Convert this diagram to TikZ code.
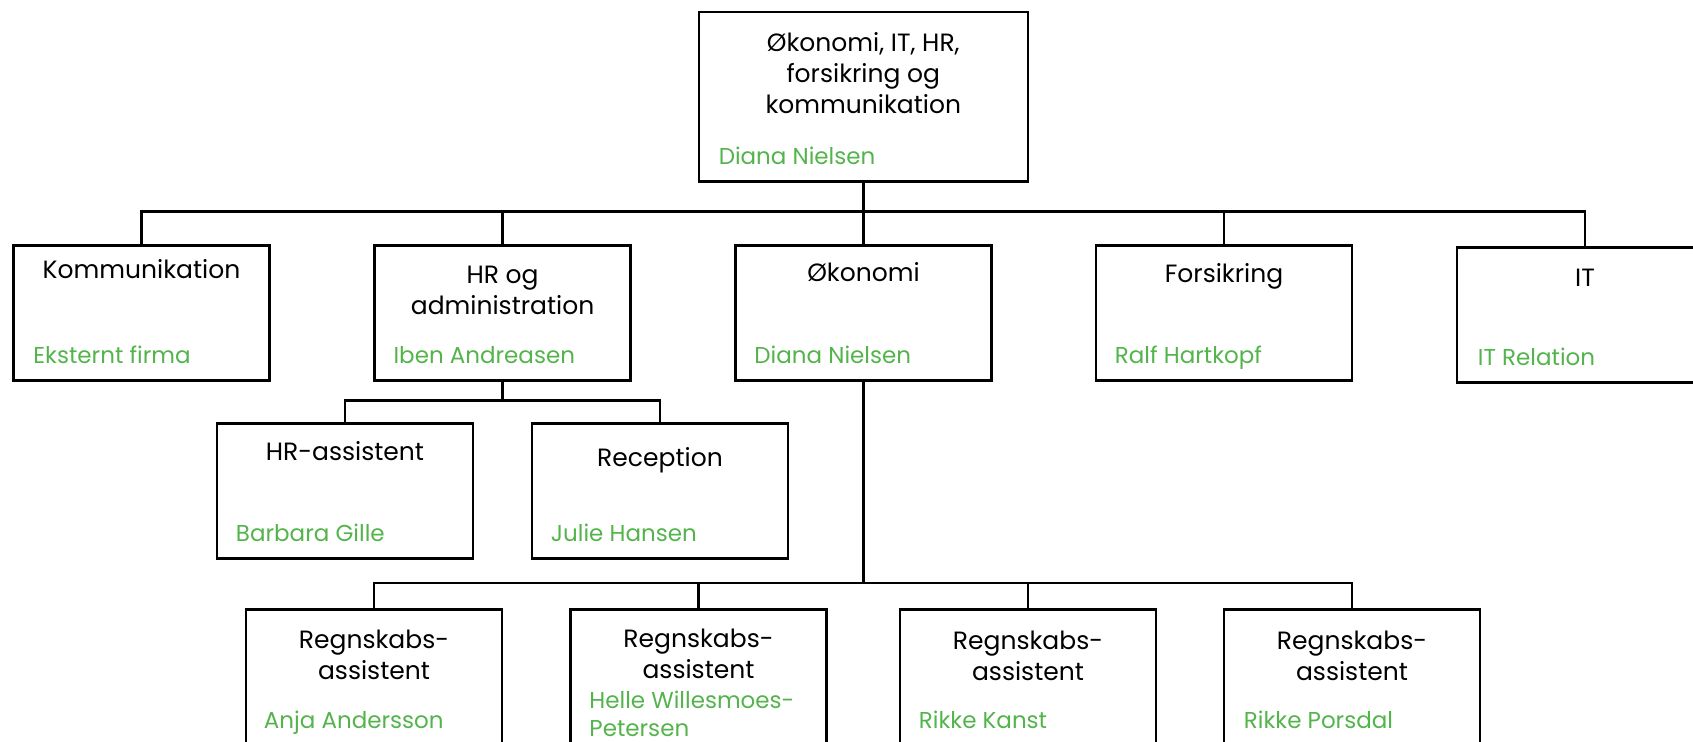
\documentclass[tikz,border=0pt]{standalone}
\usepackage{fontspec}
\setmainfont{Poppins}
\definecolor{namegreen}{RGB}{84,180,76}
\begin{document}
\begin{tikzpicture}[x=1pt,y=-1pt,
  box/.style={draw, line width=2.5pt, minimum width=256pt, minimum height=135pt, inner sep=0pt, anchor=north},
  ttl/.style={anchor=base, align=center, font=\fontsize{25}{31}\selectfont, inner sep=0pt},
  nm/.style={anchor=base west, align=left, font=\fontsize{23}{28}\selectfont, text=namegreen, inner sep=0pt},
  con/.style={line width=2.5pt}]
\path[use as bounding box] (0,0) rectangle (1693,741);
\clip (0,0) rectangle (1693,741);
% boxes
\node[box, minimum width=329pt, minimum height=169.5pt] (top) at (863.3,10.8) {};
\node[box] (komm) at (141.5,244) {};
\node[box] (hr) at (502.6,244) {};
\node[box] (oko) at (863.5,244) {};
\node[box] (fors) at (1224,244) {};
\node[box] (it) at (1585,246) {};
\node[box] (hra) at (345,422) {};
\node[box] (rec) at (660,422) {};
\node[box] (r1) at (374,608) {};
\node[box] (r2) at (698.5,608) {};
\node[box] (r3) at (1028,608) {};
\node[box] (r4) at (1352,608) {};
% titles (base anchor = baseline of last line)
\node[ttl] (ttop) at ([shift={(0,103)}]top.north) {Økonomi, IT, HR,\\forsikring og\\kommunikation};
\node[ttl] (tkomm) at ([shift={(0,34)}]komm.north) {Kommunikation};
\node[ttl] (thr) at ([shift={(0,70)}]hr.north) {HR og\\administration};
\node[ttl] (toko) at ([shift={(0,37)}]oko.north) {Økonomi};
\node[ttl] (tfors) at ([shift={(0,38)}]fors.north) {Forsikring};
\node[ttl] (tit) at ([shift={(0,40)}]it.north) {IT};
\node[ttl] (thra) at ([shift={(0,38)}]hra.north) {HR-assistent};
\node[ttl] (trec) at ([shift={(0,44)}]rec.north) {Reception};
\node[ttl] (tr1) at ([shift={(0,71)}]r1.north) {Regnskabs-\\assistent};
\node[ttl] (tr2) at ([shift={(0,70)}]r2.north) {Regnskabs-\\assistent};
\node[ttl] (tr3) at ([shift={(0,72)}]r3.north) {Regnskabs-\\assistent};
\node[ttl] (tr4) at ([shift={(0,72)}]r4.north) {Regnskabs-\\assistent};
% names
\node[nm] (ntop) at ([shift={(21,153.7)}]top.north west) {Diana Nielsen};
\node[nm] (nkomm) at ([shift={(21,119)}]komm.north west) {Eksternt firma};
\node[nm] (nhr) at ([shift={(20,119)}]hr.north west) {Iben Andreasen};
\node[nm] (noko) at ([shift={(20,119)}]oko.north west) {Diana Nielsen};
\node[nm] (nfors) at ([shift={(20,119)}]fors.north west) {Ralf Hartkopf};
\node[nm] (nit) at ([shift={(22,119)}]it.north west) {IT Relation};
\node[nm] (nhra) at ([shift={(20,119)}]hra.north west) {Barbara Gille};
\node[nm] (nrec) at ([shift={(20,119)}]rec.north west) {Julie Hansen};
\node[nm] (nr1) at ([shift={(19,120)}]r1.north west) {Anja Andersson};
\node[nm] (nr2) at ([shift={(20,128)}]r2.north west) {Helle Willesmoes-\\Petersen};
\node[nm] (nr3) at ([shift={(20,120)}]r3.north west) {Rikke Kanst};
\node[nm] (nr4) at ([shift={(21,120)}]r4.north west) {Rikke Porsdal};
% connectors
\coordinate (b1) at (0,211.6);
\coordinate (b2) at (0,400.6);
\coordinate (b3) at (0,583);
\draw[con] (top.south) -- (top.south |- b1);
\draw[con] (komm.north) -- (komm.north |- b1) -- (it.north |- b1) -- (it.north);
\draw[con] (hr.north) -- (hr.north |- b1);
\draw[con] (oko.north) -- (oko.north |- b1);
\draw[con] (fors.north) -- (fors.north |- b1);
\draw[con] (hr.south) -- (hr.south |- b2);
\draw[con] (hra.north) -- (hra.north |- b2) -- (rec.north |- b2) -- (rec.north);
\draw[con] (oko.south) -- (oko.south |- b3);
\draw[con] (r1.north) -- (r1.north |- b3) -- (r4.north |- b3) -- (r4.north);
\draw[con] (r2.north) -- (r2.north |- b3);
\draw[con] (r3.north) -- (r3.north |- b3);
\end{tikzpicture}
\end{document}
